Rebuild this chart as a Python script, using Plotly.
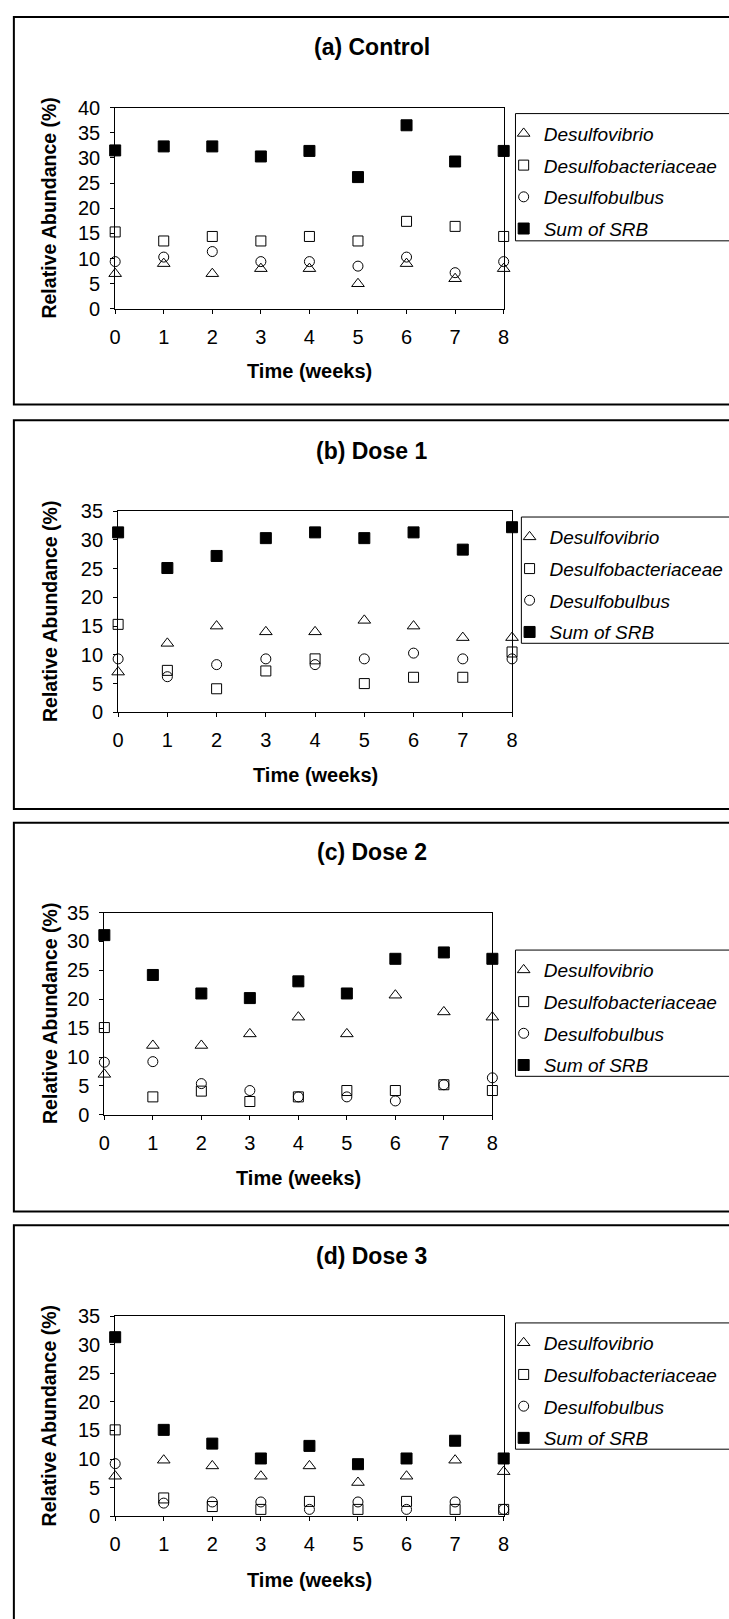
import plotly.graph_objects as go

# ---------------- data ----------------
weeks = [0, 1, 2, 3, 4, 5, 6, 7, 8]

series_names = ["Desulfovibrio", "Desulfobacteriaceae", "Desulfobulbus", "Sum of SRB"]

control_vibrio = [7.0, 9.0, 7.0, 8.0, 8.0, 5.0, 9.0, 6.0, 8.0]
control_bact = [15.3, 13.5, 14.4, 13.5, 14.4, 13.5, 17.4, 16.4, 14.4]
control_bulbus = [9.4, 10.3, 11.4, 9.4, 9.4, 8.5, 10.3, 7.2, 9.4]
control_sum = [31.5, 32.3, 32.3, 30.3, 31.4, 26.2, 36.5, 29.3, 31.4]

dose1_vibrio = [7.0, 12.0, 15.0, 14.0, 14.0, 16.0, 15.0, 13.0, 13.0]
dose1_bact = [15.3, 7.3, 4.1, 7.2, 9.3, 5.0, 6.1, 6.1, 10.5]
dose1_bulbus = [9.3, 6.2, 8.3, 9.3, 8.3, 9.3, 10.3, 9.3, 9.3]
dose1_sum = [31.3, 25.1, 27.2, 30.3, 31.3, 30.3, 31.3, 28.3, 32.2]

dose2_vibrio = [7.0, 12.0, 12.0, 14.0, 16.9, 14.0, 20.7, 17.8, 16.9]
dose2_bact = [15.1, 3.1, 4.1, 2.3, 3.1, 4.2, 4.2, 5.2, 4.2]
dose2_bulbus = [9.1, 9.2, 5.4, 4.2, 3.1, 3.1, 2.4, 5.2, 6.4]
dose2_sum = [31.1, 24.2, 21.0, 20.2, 23.1, 21.0, 27.0, 28.1, 27.0]

dose3_vibrio = [7.0, 9.8, 8.8, 7.0, 8.8, 5.9, 7.0, 9.8, 7.8]
dose3_bact = [15.1, 3.2, 1.7, 1.2, 2.6, 1.2, 2.6, 1.2, 1.2]
dose3_bulbus = [9.2, 2.3, 2.5, 2.5, 1.2, 2.5, 1.2, 2.5, 1.2]
dose3_sum = [31.3, 15.1, 12.7, 10.1, 12.3, 9.1, 10.1, 13.2, 10.1]

panel_titles = ["(a) Control", "(b) Dose 1", "(c) Dose 2", "(d) Dose 3"]
panel_data = [
    [control_vibrio, control_bact, control_bulbus, control_sum],
    [dose1_vibrio, dose1_bact, dose1_bulbus, dose1_sum],
    [dose2_vibrio, dose2_bact, dose2_bulbus, dose2_sum],
    [dose3_vibrio, dose3_bact, dose3_bulbus, dose3_sum],
]
y_max = [40, 35, 35, 35]
x_title = "Time (weeks)"
y_title = "Relative Abundance (%)"

# ---------------- layout (pixels) ----------------
W, H = 729, 1619
FONT = "Arial, Liberation Sans, sans-serif"

# plot area: left, right, top, bottom
plot_px = [
    (111, 506, 98, 302),
    (114, 514.5, 507, 711),
    (100, 494.5, 914, 1119),
    (111, 506, 1323, 1526),
]
box_px = [(6, 399), (415, 809), (823, 1217), (1231, 1720)]
title_y_px = [36, 446, 853, 1262]
xtitle_y_px = [365, 775, 1183, 1591]
ytitle_x_px = 44
# legend frame: left, top, bottom
legend_px = [(518, 104, 233), (524, 513, 641), (518, 952, 1080), (518, 1330, 1458)]

marker_styles = [
    dict(symbol="triangle-up-open", size=11, color="black", line=dict(width=1, color="black")),
    dict(symbol="square-open", size=10, color="black", line=dict(width=1, color="black")),
    dict(symbol="circle-open", size=10, color="black", line=dict(width=1, color="black")),
    dict(symbol="square", size=11, color="black", line=dict(width=1, color="black")),
]


def fx(px):
    return px / W


def fy(py):
    return 1 - py / H


fig = go.Figure()
shapes = []
annotations = []
layout_extra = {}

for i in range(4):
    ax_sfx = "" if i == 0 else str(i + 1)
    xa = "x" + ax_sfx
    ya = "y" + ax_sfx
    leg = "legend" if i == 0 else "legend" + str(i + 1)
    for s in range(4):
        fig.add_trace(
            go.Scatter(
                x=weeks,
                y=panel_data[i][s],
                mode="markers",
                name="<i>" + series_names[s] + "</i>",
                marker=marker_styles[s],
                xaxis=xa,
                yaxis=ya,
                legend=leg,
                legendgroup="p%d_s%d" % (i, s),
                cliponaxis=False,
                showlegend=True,
            )
        )
    l, r, t, b = plot_px[i]
    common = dict(
        showline=True,
        linecolor="black",
        linewidth=1,
        mirror=True,
        showgrid=False,
        zeroline=False,
        ticks="outside",
        ticklen=4,
        tickwidth=1,
        tickcolor="black",
        tickfont=dict(family=FONT, size=20, color="black"),
    )
    layout_extra["xaxis" + ax_sfx] = dict(
        domain=[fx(l), fx(r)],
        range=[0, 8],
        tickmode="array",
        tickvals=weeks,
        anchor=ya,
        ticklabelstandoff=6,
        **common,
    )
    layout_extra["yaxis" + ax_sfx] = dict(
        domain=[fy(b), fy(t)],
        range=[0, y_max[i]],
        dtick=5,
        tick0=0,
        anchor=xa,
        ticklabelstandoff=6,
        **common,
    )
    lx, lt, lb = legend_px[i]
    layout_extra[leg] = dict(
        x=fx(lx - 12),
        y=fy(lt + 1),
        xanchor="left",
        yanchor="top",
        xref="paper",
        yref="paper",
        bgcolor="rgba(0,0,0,0)",
        borderwidth=0,
        font=dict(family=FONT, size=19, color="black"),
        itemwidth=30,
        traceorder="grouped",
        tracegroupgap=4,
    )
    # legend frame
    shapes.append(
        dict(type="rect", xref="paper", yref="paper", x0=fx(lx), x1=1.2,
             y0=fy(lb), y1=fy(lt), line=dict(color="black", width=1),
             fillcolor="rgba(0,0,0,0)")
    )
    # panel frame
    bt, bb = box_px[i]
    shapes.append(
        dict(type="rect", xref="paper", yref="paper", x0=fx(8), x1=1.2,
             y0=fy(bb), y1=fy(bt), line=dict(color="black", width=2),
             fillcolor="rgba(0,0,0,0)")
    )
    annotations.append(dict(text="<b>" + panel_titles[i] + "</b>", x=fx(372), y=fy(title_y_px[i]),
                            xref="paper", yref="paper", showarrow=False, xanchor="center",
                            yanchor="middle", font=dict(family=FONT, size=23, color="black")))
    annotations.append(dict(text="<b>" + x_title + "</b>", x=fx((l + r) / 2), y=fy(xtitle_y_px[i]),
                            xref="paper", yref="paper", showarrow=False, xanchor="center",
                            yanchor="middle", font=dict(family=FONT, size=20, color="black")))
    annotations.append(dict(text="<b>" + y_title + "</b>", x=fx(ytitle_x_px), y=fy((t + b) / 2),
                            xref="paper", yref="paper", showarrow=False, textangle=-90,
                            xanchor="center", yanchor="middle",
                            font=dict(family=FONT, size=19.5, color="black")))

fig.update_layout(
    width=W,
    height=H,
    margin=dict(l=0, r=0, t=0, b=0),
    paper_bgcolor="white",
    plot_bgcolor="white",
    shapes=shapes,
    annotations=annotations,
    **layout_extra,
)

fig.write_html("out.html")
